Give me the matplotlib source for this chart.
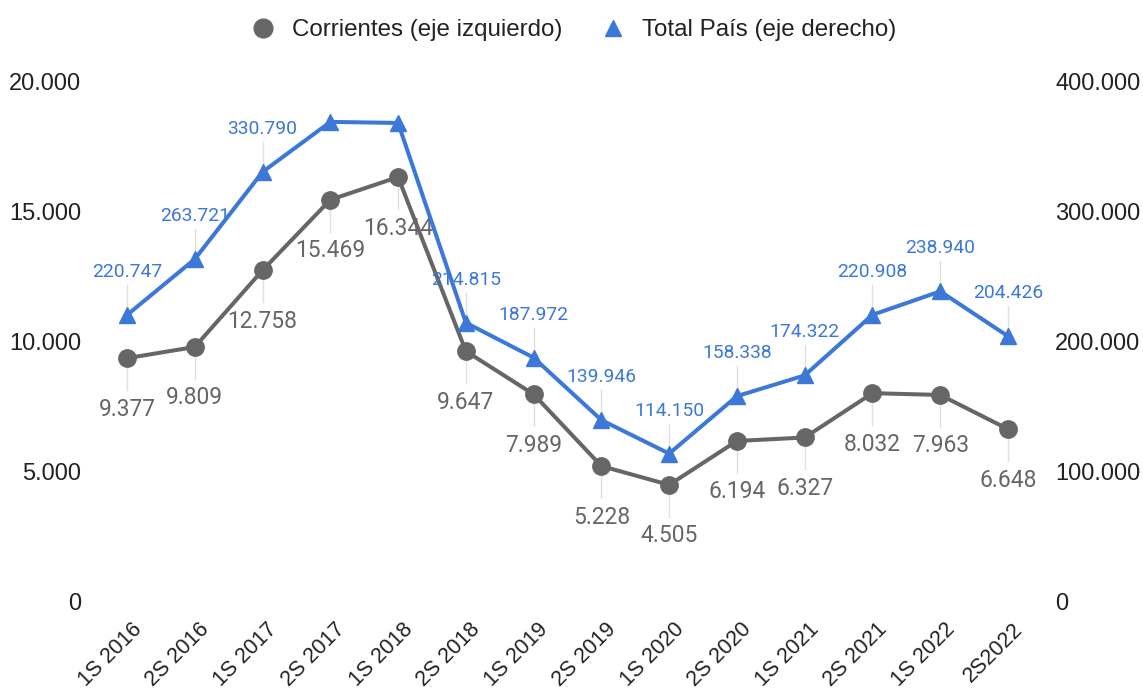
import matplotlib
matplotlib.use("Agg")
import matplotlib.pyplot as plt
from matplotlib.lines import Line2D
import matplotlib.transforms as mtransforms

plt.rcParams['font.family'] = ['Liberation Sans', 'DejaVu Sans']

categories = ["1S 2016", "2S 2016", "1S 2017", "2S 2017", "1S 2018", "2S 2018", "1S 2019",
              "2S 2019", "1S 2020", "2S 2020", "1S 2021", "2S 2021", "1S 2022", "2S2022"]
corrientes = [9377, 9809, 12758, 15469, 16344, 9647, 7989, 5228, 4505, 6194, 6327, 8032, 7963, 6648]
total_pais = [220747, 263721, 330790, 369300, 368500, 214815, 187972, 139946, 114150, 158338,
              174322, 220908, 238940, 204426]
total_label_shown = [True, True, True, False, False, True, True, True, True, True, True, True, True, True]
left_ticks = [0, 5000, 10000, 15000, 20000]
right_ticks = [0, 100000, 200000, 300000, 400000]

GRAY = "#666666"
BLUE = "#3c78d8"
STEM = "#e0e0e0"
TXT = "#222222"
LABEL_FONT = ['Roboto', 'DejaVu Sans']


def fmt(v):
    return f"{v:,}".replace(",", ".")


W, H = 1143, 693
fig = plt.figure(figsize=(W / 100, H / 100), dpi=100)
L, R, T, B = 93.1, 1041.9, 82, 602
ax = fig.add_axes([L / W, 1 - B / H, (R - L) / W, (B - T) / H])
ax2 = ax.twinx()

x = list(range(len(categories)))
ax.set_xlim(-0.5, len(categories) - 0.5)
ax.set_ylim(0, 20000)
ax2.set_ylim(0, 400000)

for a in (ax, ax2):
    for s in a.spines.values():
        s.set_visible(False)
    a.tick_params(length=0, labelsize=17, labelcolor=TXT)

ax.set_yticks(left_ticks)
ax.set_yticklabels([fmt(v) for v in left_ticks])
ax.tick_params(axis='y', pad=8.5)
ax2.set_yticks(right_ticks)
ax2.set_yticklabels([fmt(v) for v in right_ticks])
ax2.tick_params(axis='y', pad=9.5)
ax.set_xticks(x)
ax.set_xticklabels(categories, rotation=45, ha='right', rotation_mode='anchor', fontsize=15.5)
ax.tick_params(axis='x', pad=12)
shift = mtransforms.ScaledTranslation(4 / 100, 0, fig.dpi_scale_trans)
for lab in ax.get_xticklabels():
    lab.set_transform(lab.get_transform() + shift)

ax2.set_zorder(ax.get_zorder() + 1)
ax.patch.set_visible(False)

# gray series
ax.plot(x, corrientes, color=GRAY, lw=2.9, marker='o', ms=12.5, zorder=3)
for xi, v in zip(x, corrientes):
    ax.annotate(fmt(v), xy=(xi, v), xytext=(0, -36.7), textcoords='offset points',
                ha='center', va='center', fontsize=16.4, color=GRAY, zorder=2,
                family=LABEL_FONT)

# blue series
ax2.plot(x, total_pais, color=BLUE, lw=2.9, marker='^', ms=11, zorder=3)
for xi, v, show in zip(x, total_pais, total_label_shown):
    if show:
        ax2.annotate(fmt(v), xy=(xi, v), xytext=(0, 31), textcoords='offset points',
                     ha='center', va='center', fontsize=13.9, color=BLUE, zorder=2,
                     family=LABEL_FONT)

# leader stems (pixel offsets from markers)
fig.canvas.draw()
for xi, v in zip(x, corrientes):
    px, py = ax.transData.transform((xi, v))
    fig.add_artist(Line2D([px, px], [py - 9, py - 32], transform=None,
                          color=STEM, lw=1.0, zorder=0))
for xi, v, show in zip(x, total_pais, total_label_shown):
    if not show:
        continue
    px, py = ax2.transData.transform((xi, v))
    fig.add_artist(Line2D([px, px], [py + 7, py + 30], transform=None,
                          color=STEM, lw=1.0, zorder=0))

handles = [Line2D([], [], color=GRAY, marker='o', ls='none', ms=13.5),
           Line2D([], [], color=BLUE, marker='^', ls='none', ms=12)]
fig.legend(handles, ["Corrientes (eje izquierdo)", "Total País (eje derecho)"],
           loc='center', bbox_to_anchor=(572 / W, 1 - 30 / H), ncol=2, frameon=False,
           fontsize=17.4, handletextpad=0.6, columnspacing=1.5, labelcolor=TXT,
           handlelength=1.2)

fig.savefig("out.png", dpi=100, facecolor="white")
